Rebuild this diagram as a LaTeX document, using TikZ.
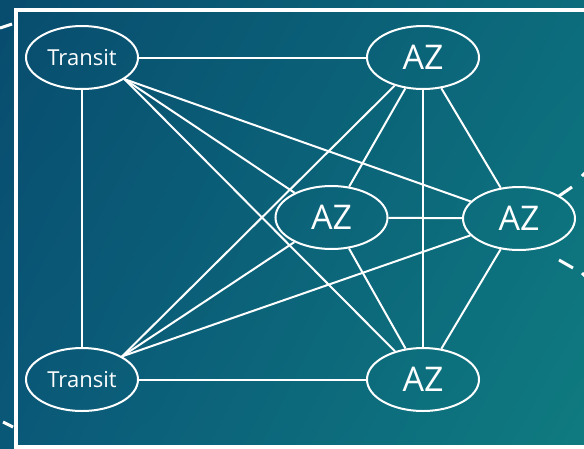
\documentclass[tikz,border=0pt]{standalone}
\usepackage{fontspec}
\setmainfont{Open Sans}
\usetikzlibrary{shapes.geometric,shadings}
\definecolor{bgUL}{HTML}{084C6E}
\definecolor{bgUR}{HTML}{0C6C7C}
\definecolor{bgLL}{HTML}{0A5878}
\definecolor{bgLR}{HTML}{0F7B80}
\tikzset{
  netnode/.style={ellipse, draw=white, line width=2pt, minimum width=112pt, minimum height=63pt, inner sep=0pt, text=white},
  transitnode/.style={netnode, font=\fontsize{22}{24}\selectfont},
  aznode/.style={netnode, font=\fontsize{34}{36}\selectfont},
  link/.style={draw=white, line width=2pt},
  dashseg/.style={draw=white, line width=3pt}
}
\begin{document}
\begin{tikzpicture}[x=1pt,y=-1pt]
\useasboundingbox (0,0) rectangle (584,448);
\clip (0,0) rectangle (584,448);
\shade[upper left=bgUL, upper right=bgUR, lower left=bgLL, lower right=bgLR] (0,0) rectangle (584,448);
% outer frame
\draw[white, line width=4pt] (16,9.5) rectangle (600,447);
% dashed fragments
\coordinate (d1a) at (0,28); \coordinate (d1b) at (12,24);
\coordinate (d2a) at (3,422); \coordinate (d2b) at (13,427);
\coordinate (d3a) at (559,196); \coordinate (d3b) at (572,187);
\coordinate (d4a) at (582,176); \coordinate (d4b) at (586,172);
\coordinate (d5a) at (559,260); \coordinate (d5b) at (573,268);
\coordinate (d6a) at (582,273); \coordinate (d6b) at (586,277);
\draw[dashseg] (d1a) -- (d1b);
\draw[dashseg] (d2a) -- (d2b);
\draw[dashseg] (d3a) -- (d3b);
\draw[dashseg] (d4a) -- (d4b);
\draw[dashseg] (d5a) -- (d5b);
\draw[dashseg] (d6a) -- (d6b);
% nodes
\node[transitnode] (t1) at (82,57.5) {Transit};
\node[transitnode] (t2) at (82,379.5) {Transit};
\node[aznode] (aztop) at (423,57.5) {AZ};
\node[aznode] (azmid) at (331.5,217.5) {AZ};
\node[aznode] (azright) at (519,218.5) {AZ};
\node[aznode] (azbot) at (423,379.5) {AZ};
% links
\draw[link] (t1) -- (aztop);
\draw[link] (t1) -- (t2);
\draw[link] (t2) -- (azbot);
\draw[link] (t1.-27) -- (azright);
\draw[link] (t1.-27) -- (azmid);
\draw[link] (t1.-27) -- (azbot);
\draw[link] (t2.30) -- (aztop);
\draw[link] (t2.30) -- (azmid);
\draw[link] (t2.30) -- (azright);
\draw[link] (aztop) -- (azmid);
\draw[link] (aztop) -- (azbot);
\draw[link] (aztop) -- (azright);
\draw[link] (azmid) -- (azright);
\draw[link] (azmid) -- (azbot);
\draw[link] (azright) -- (azbot);
\end{tikzpicture}
\end{document}
